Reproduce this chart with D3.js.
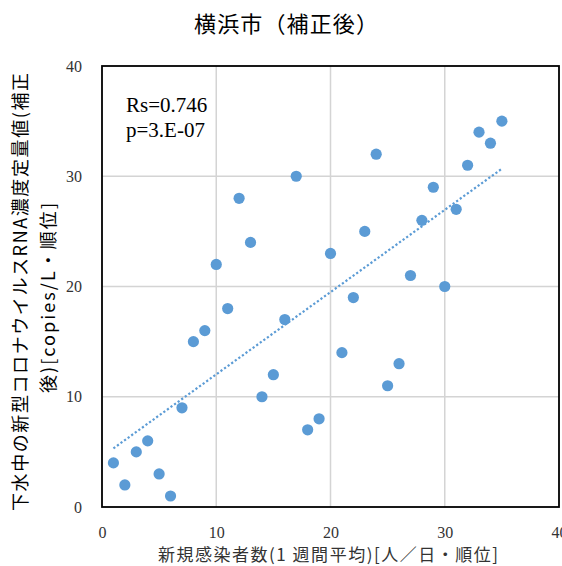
<!DOCTYPE html>
<html><head><meta charset="utf-8">
<script src="https://cdn.jsdelivr.net/npm/d3@7"></script>
<style>body{margin:0;background:#fff}svg{display:block}</style>
</head><body><svg id="c" width="562" height="566"></svg>
<script>
const title = "横浜市（補正後）";
const xLabel = "新規感染者数(1 週間平均)[人／日・順位]";
const yLabel1 = "下水中の新型コロナウイルスRNA濃度定量値(補正";
const yLabel2 = "後)[copies/L・順位]";
const statLines = ["Rs=0.746", "p=3.E-07"];
const xRank = [1,2,3,4,5,6,7,8,9,10,11,12,13,14,15,16,17,18,19,20,21,22,23,24,25,26,27,28,29,30,31,32,33,34,35];
const yRank = [4,2,5,6,3,1,9,15,16,22,18,28,24,10,12,17,30,7,8,23,14,19,25,32,11,13,21,26,29,20,27,31,34,33,35];
const xTicks = [0,10,20,30,40];
const yTicks = [0,10,20,30,40];

const svg = d3.select("#c");
const L = 102, R = 559, T = 66, B = 507;
const x = d3.scaleLinear().domain([0,40]).range([L,R]);
const y = d3.scaleLinear().domain([0,40]).range([B,T]);

// gridlines
svg.append("g").selectAll("line").data(xTicks.slice(1,-1)).join("line")
  .attr("x1", d=>x(d)).attr("x2", d=>x(d)).attr("y1", T).attr("y2", B)
  .attr("stroke", "#d4d4d4").attr("stroke-width", 1.5);
svg.append("g").selectAll("line").data(yTicks.slice(1,-1)).join("line")
  .attr("y1", d=>y(d)).attr("y2", d=>y(d)).attr("x1", L).attr("x2", R)
  .attr("stroke", "#d4d4d4").attr("stroke-width", 1.5);

// axes (labels only)
const xAxis = svg.append("g").attr("transform", `translate(0,${B})`)
  .call(d3.axisBottom(x).tickValues(xTicks).tickSize(0).tickPadding(20));
const yAxis = svg.append("g").attr("transform", `translate(${L},0)`)
  .call(d3.axisLeft(y).tickValues(yTicks).tickSize(0).tickPadding(20));
[xAxis, yAxis].forEach(a => {
  a.select(".domain").remove();
  a.selectAll("text").attr("font-family", "'Liberation Serif', serif").attr("font-size", 16).attr("fill", "#333");
});

// border
svg.append("rect").attr("x", L).attr("y", T).attr("width", R-L).attr("height", B-T)
  .attr("fill", "none").attr("stroke", "#000").attr("stroke-width", 1.8);

// trendline (least squares)
const n = xRank.length;
const mx = d3.mean(xRank), my = d3.mean(yRank);
let sxy = 0, sxx = 0;
for (let i=0;i<n;i++){ sxy += (xRank[i]-mx)*(yRank[i]-my); sxx += (xRank[i]-mx)**2; }
const slope = sxy/sxx, icpt = my - slope*mx;
const x0 = d3.min(xRank), x1 = d3.max(xRank);
svg.append("line").attr("x1", x(x0)).attr("y1", y(icpt+slope*x0))
  .attr("x2", x(x1)).attr("y2", y(icpt+slope*x1))
  .attr("stroke", "#5b9bd5").attr("stroke-width", 2.2).attr("stroke-dasharray", "2.2 2.2");

// points
svg.append("g").selectAll("circle").data(xRank.map((d,i)=>[d,yRank[i]])).join("circle")
  .attr("cx", d=>x(d[0])).attr("cy", d=>y(d[1])).attr("r", 5.6)
  .attr("fill", "#5b9bd5");

// stats text
svg.append("g").selectAll("text").data(statLines).join("text")
  .attr("x", 126).attr("y", (d,i)=>112+i*25)
  .attr("font-family", "'Liberation Serif', serif").attr("font-size", 21).attr("fill", "#000")
  .text(d=>d);

// title
svg.append("text").attr("x", 286).attr("y", 32).attr("text-anchor", "middle")
  .attr("font-family", "'Noto Sans CJK JP', sans-serif").attr("font-size", 22).attr("fill", "#000")
  .attr("textLength", 184).attr("lengthAdjust", "spacing")
  .text(title);

// x label
svg.append("text").attr("x", 328).attr("y", 561).attr("text-anchor", "middle")
  .attr("font-family", "'Noto Sans CJK JP', sans-serif").attr("font-size", 17).attr("fill", "#333")
  .attr("textLength", 340).attr("lengthAdjust", "spacing")
  .text(xLabel);

// y label (two lines)
svg.append("text").attr("transform", "translate(27,292) rotate(-90)").attr("text-anchor", "middle")
  .attr("font-family", "'Noto Sans CJK JP', sans-serif").attr("font-size", 18).attr("fill", "#000")
  .attr("textLength", 438).attr("lengthAdjust", "spacing")
  .text(yLabel1);
svg.append("text").attr("transform", "translate(55,298) rotate(-90)").attr("text-anchor", "middle")
  .attr("font-family", "'Noto Sans CJK JP', sans-serif").attr("font-size", 18).attr("fill", "#000")
  .attr("textLength", 190).attr("lengthAdjust", "spacing")
  .text(yLabel2);
</script></body></html>
